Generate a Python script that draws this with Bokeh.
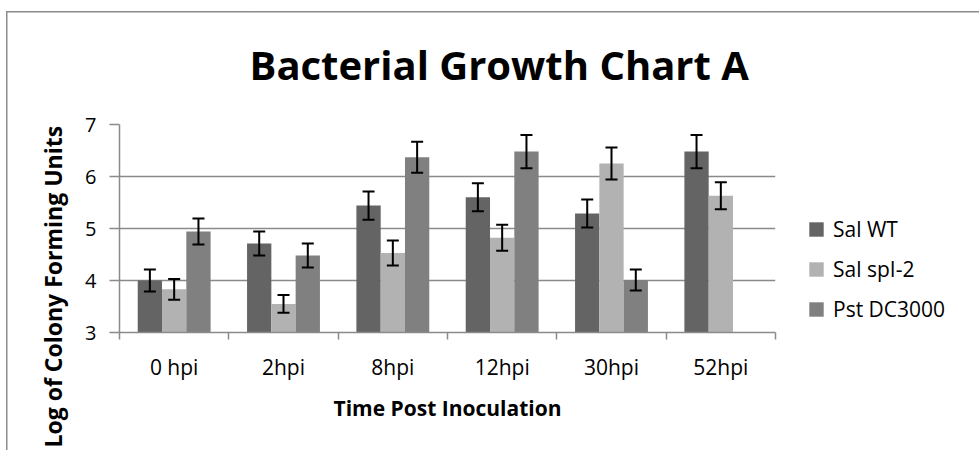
from bokeh.plotting import figure
from bokeh.models import (ColumnDataSource, Whisker, TeeHead, Legend, LegendItem,
                          Title, FixedTicker, Range1d)
from bokeh.embed import file_html
from bokeh.resources import INLINE

# ---- data ----
categories = ["0 hpi", "2hpi", "8hpi", "12hpi", "30hpi", "52hpi"]
series_names = ["Sal WT", "Sal spI-2", "Pst DC3000"]
sal_wt = [4.00, 4.71, 5.44, 5.60, 5.29, 6.48]
sal_wt_err = [0.21, 0.23, 0.27, 0.27, 0.27, 0.32]
sal_spi2 = [3.83, 3.55, 4.53, 4.82, 6.25, 5.63]
sal_spi2_err = [0.20, 0.17, 0.24, 0.25, 0.31, 0.26]
pst_dc3000 = [4.94, 4.48, 6.37, 6.48, 4.01, None]
pst_dc3000_err = [0.25, 0.23, 0.30, 0.32, 0.20, None]
y_ticks = [3, 4, 5, 6, 7]
colors = ["#646464", "#b2b2b2", "#808080"]

FONT = "Open Sans"
GRID = "#8a8a8a"

p = figure(frame_width=656, frame_height=208,
           x_range=Range1d(0, len(categories)), y_range=Range1d(3, 7),
           output_backend="svg", toolbar_location=None,
           min_border_left=119, min_border_right=180, min_border_top=124, min_border_bottom=118)
p.outline_line_color = None
p.background_fill_color = "white"
p.border_fill_alpha = 0
p.styles = {
    "background": ("linear-gradient(#8c8c8c, #8c8c8c) 6px 11px / 1.5px 100% no-repeat, "
                   "linear-gradient(#8c8c8c, #8c8c8c) 6px 11px / 100% 1.5px no-repeat, white"),
}

bar_w = 1 / 4.5
series = [(sal_wt, sal_wt_err), (sal_spi2, sal_spi2_err), (pst_dc3000, pst_dc3000_err)]
renderers = []
for k, (vals, errs) in enumerate(series):
    xs, tops, ups, lows = [], [], [], []
    for i, (v, e) in enumerate(zip(vals, errs)):
        if v is None:
            continue
        xs.append(i + 0.5 + (k - 1) * bar_w)
        tops.append(v)
        ups.append(v + e)
        lows.append(v - e)
    src = ColumnDataSource(dict(x=xs, top=tops, upper=ups, lower=lows))
    r = p.vbar(x="x", top="top", bottom=3, width=bar_w, source=src,
               fill_color=colors[k], line_color=None)
    renderers.append(r)
    w = Whisker(source=src, base="x", upper="upper", lower="lower",
                line_color="black", line_width=2, level="annotation",
                upper_head=TeeHead(size=12, line_color="black", line_width=2),
                lower_head=TeeHead(size=12, line_color="black", line_width=2))
    p.add_layout(w)

# y axis
p.yaxis.ticker = FixedTicker(ticks=y_ticks)
p.yaxis.major_tick_out = 10
p.yaxis.major_tick_in = 0
p.yaxis.minor_tick_line_color = None
p.yaxis.axis_line_color = GRID
p.yaxis.axis_line_width = 1.5
p.yaxis.major_tick_line_color = GRID
p.yaxis.major_tick_line_width = 1.5
p.yaxis.major_label_text_font = FONT
p.yaxis.major_label_text_font_size = "20px"
p.yaxis.major_label_text_color = "black"
p.yaxis.major_label_standoff = 13

p.ygrid.ticker = FixedTicker(ticks=y_ticks)
p.ygrid.grid_line_color = GRID
p.ygrid.grid_line_width = 1.5
p.xgrid.grid_line_color = None

# x axis
centers = [i + 0.5 for i in range(len(categories))]
bounds = [i for i in range(len(categories) + 1)]
p.xaxis.ticker = FixedTicker(ticks=centers, minor_ticks=bounds)
p.xaxis.major_label_overrides = {c: lab for c, lab in zip(centers, categories)}
p.xaxis.major_tick_line_color = None
p.xaxis.major_tick_out = 0
p.xaxis.major_tick_in = 0
p.xaxis.minor_tick_out = 7
p.xaxis.minor_tick_in = 0
p.xaxis.minor_tick_line_color = GRID
p.xaxis.minor_tick_line_width = 1.5
p.xaxis.axis_line_color = GRID
p.xaxis.axis_line_width = 1.5
p.xaxis.major_label_text_font = FONT
p.xaxis.major_label_text_font_size = "21px"
p.xaxis.major_label_text_color = "black"
p.xaxis.major_label_standoff = 13
p.xaxis.axis_label = "Time Post Inoculation"
p.xaxis.axis_label_text_font = FONT
p.xaxis.axis_label_text_font_size = "21px"
p.xaxis.axis_label_text_font_style = "bold"
p.xaxis.axis_label_text_color = "black"
p.xaxis.axis_label_standoff = 10

# title
p.title.text = "Bacterial Growth Chart A"
p.title.align = "left"
p.title.offset = 130
p.title.standoff = 66
p.title.text_font = FONT
p.title.text_font_size = "40px"
p.title.text_font_style = "bold"
p.title.text_color = "black"

# y label as a side title, placed like the original
p.add_layout(Title(text="Log of Colony Forming Units", align="left", offset=-115,
                   standoff=27, text_font=FONT, text_font_size="23px",
                   text_font_style="bold", text_color="black"), "left")

# legend
legend = Legend(items=[LegendItem(label=n, renderers=[r]) for n, r in zip(series_names, renderers)],
                location="top_left", orientation="vertical",
                title=" ", title_text_font_size="10px", title_standoff=48,
                glyph_width=18, glyph_height=18, label_height=20, label_standoff=8,
                spacing=12, padding=0, margin=32,
                border_line_color=None, background_fill_alpha=0,
                label_text_font=FONT, label_text_font_size="21px", label_text_color="black")
p.add_layout(legend, "right")

open("out.html", "w").write(file_html(p, INLINE))
